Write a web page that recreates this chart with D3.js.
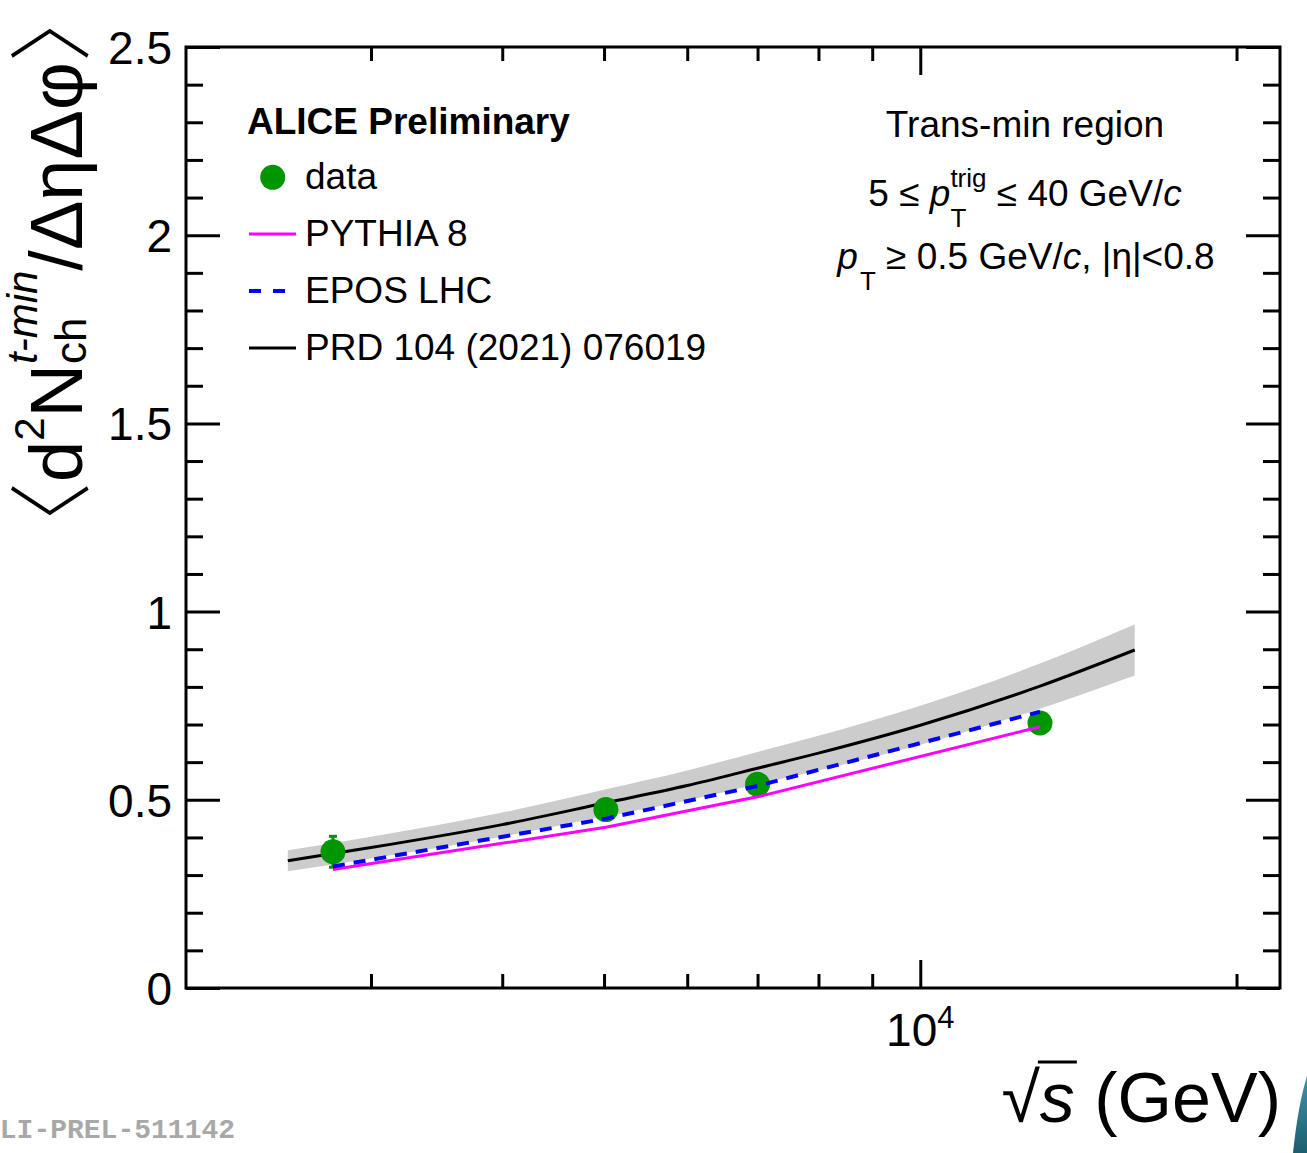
<!DOCTYPE html>
<html>
<head>
<meta charset="utf-8">
<script src="https://cdn.jsdelivr.net/npm/d3@7"></script>
<style>
    body { margin: 0; background: #fff; }
    svg { display: block; }
    text { font-family: "Liberation Sans", Arial, Helvetica, sans-serif; }
</style>
</head>
<body>
<div id="chart"></div>
<script>
// Measured points (sqrt(s) in GeV)
const energies = [2760, 5020, 7000, 13000];
const dataVals = [0.362, 0.474, 0.541, 0.704];
const dataErr = [0.041, 0.012, 0.011, 0.012];
const pythiaVals = [0.315, 0.427, 0.508, 0.694];
const eposVals = [0.323, 0.450, 0.537, 0.734];

// PRD 104 (2021) 076019 curve with its uncertainty band
const prdEnergies = [2500, 3000, 4000, 5020, 6000, 7000, 8000, 10000, 13000, 16000];
const prdVals = [0.338, 0.373, 0.434, 0.492, 0.538, 0.584, 0.624, 0.698, 0.802, 0.898];
const prdLow = [0.310, 0.344, 0.402, 0.456, 0.498, 0.541, 0.578, 0.646, 0.742, 0.830];
const prdHigh = [0.366, 0.402, 0.466, 0.528, 0.578, 0.627, 0.670, 0.750, 0.862, 0.966];

// Ticks
const yMajor = [0, 0.5, 1, 1.5, 2, 2.5];
const yMinor = [0.1, 0.2, 0.3, 0.4, 0.6, 0.7, 0.8, 0.9, 1.1, 1.2, 1.3, 1.4,
                1.6, 1.7, 1.8, 1.9, 2.1, 2.2, 2.3, 2.4];
const xMajor = [10000];
const xMinor = [3000, 4000, 5000, 6000, 7000, 8000, 9000, 20000];

const legendLabels = ["data", "PYTHIA 8", "EPOS LHC", "PRD 104 (2021) 076019"];

const width = 1307,
    height = 1153,
    margin = { top: 47, right: 27, bottom: 165, left: 186 };

const green = "#009600";

const svg = d3
    .select("#chart")
    .append("svg")
    .attr("width", width)
    .attr("height", height)
    .attr("viewBox", [0, 0, width, height]);

const x = d3
    .scaleLog()
    .domain([2000, 22000])
    .range([margin.left, width - margin.right]);

const y = d3
    .scaleLinear()
    .domain([0, 2.5])
    .range([height - margin.bottom, margin.top]);

// Band and theory curve
const prd = prdEnergies.map((e, i) => ({ e, v: prdVals[i], lo: prdLow[i], hi: prdHigh[i] }));

svg.append("path")
    .datum(prd)
    .attr("fill", "#cccccc")
    .attr("d", d3.area()
        .x((d) => x(d.e))
        .y0((d) => y(d.lo))
        .y1((d) => y(d.hi))
        .curve(d3.curveMonotoneX));

svg.append("path")
    .datum(prd)
    .attr("fill", "none")
    .attr("stroke", "black")
    .attr("stroke-width", 3)
    .attr("d", d3.line()
        .x((d) => x(d.e))
        .y((d) => y(d.v))
        .curve(d3.curveMonotoneX));

// Data points with error bars
const pts = energies.map((e, i) => ({ e, v: dataVals[i], err: dataErr[i] }));

const errG = svg.append("g").attr("stroke", green).attr("stroke-width", 3);
errG.selectAll("line.bar")
    .data(pts)
    .join("line")
    .attr("class", "bar")
    .attr("x1", (d) => x(d.e))
    .attr("x2", (d) => x(d.e))
    .attr("y1", (d) => y(d.v - d.err))
    .attr("y2", (d) => y(d.v + d.err));
errG.selectAll("line.cap")
    .data(pts.flatMap((d) => [d.v - d.err, d.v + d.err].map((v) => ({ e: d.e, v }))))
    .join("line")
    .attr("class", "cap")
    .attr("x1", (d) => x(d.e) - 4)
    .attr("x2", (d) => x(d.e) + 4)
    .attr("y1", (d) => y(d.v))
    .attr("y2", (d) => y(d.v));

svg.append("g")
    .selectAll("circle")
    .data(pts)
    .join("circle")
    .attr("cx", (d) => x(d.e))
    .attr("cy", (d) => y(d.v))
    .attr("r", 12.5)
    .attr("fill", green);

// Model lines
const simLine = d3.line().x((d, i) => x(energies[i])).y((d) => y(d));

svg.append("path")
    .datum(pythiaVals)
    .attr("fill", "none")
    .attr("stroke", "#ff00ff")
    .attr("stroke-width", 3)
    .attr("d", simLine);

svg.append("path")
    .datum(eposVals)
    .attr("fill", "none")
    .attr("stroke", "#0000ff")
    .attr("stroke-width", 4)
    .attr("stroke-dasharray", "12,9")
    .attr("d", simLine);

// Axes: ticks point inwards on all four sides
function styleAxis(g) {
    g.select(".domain").remove();
    g.selectAll(".tick line").attr("stroke", "black").attr("stroke-width", 3);
    g.selectAll(".tick text")
        .attr("fill", "black")
        .attr("font-size", 46);
}

const x0 = margin.left,
    x1 = width - margin.right,
    y0 = height - margin.bottom,
    y1 = margin.top;

svg.append("g")
    .attr("transform", `translate(${x0},0)`)
    .call(d3.axisLeft(y).tickValues(yMajor).tickSizeInner(-34).tickSizeOuter(0)
        .tickPadding(14).tickFormat((d) => d))
    .call(styleAxis)
    .selectAll(".tick text").attr("dy", "0.36em");

svg.append("g")
    .attr("transform", `translate(${x0},0)`)
    .call(d3.axisLeft(y).tickValues(yMinor).tickSizeInner(-17).tickSizeOuter(0).tickFormat(""))
    .call(styleAxis);

svg.append("g")
    .attr("transform", `translate(${x1},0)`)
    .call(d3.axisRight(y).tickValues(yMajor).tickSizeInner(-34).tickSizeOuter(0).tickFormat(""))
    .call(styleAxis);

svg.append("g")
    .attr("transform", `translate(${x1},0)`)
    .call(d3.axisRight(y).tickValues(yMinor).tickSizeInner(-17).tickSizeOuter(0).tickFormat(""))
    .call(styleAxis);

svg.append("g")
    .attr("transform", `translate(0,${y0})`)
    .call(d3.axisBottom(x).tickValues(xMajor).tickSizeInner(-28).tickSizeOuter(0).tickFormat(""))
    .call(styleAxis);

svg.append("g")
    .attr("transform", `translate(0,${y0})`)
    .call(d3.axisBottom(x).tickValues(xMinor).tickSizeInner(-14).tickSizeOuter(0).tickFormat(""))
    .call(styleAxis);

svg.append("g")
    .attr("transform", `translate(0,${y1})`)
    .call(d3.axisTop(x).tickValues(xMajor).tickSizeInner(-28).tickSizeOuter(0).tickFormat(""))
    .call(styleAxis);

svg.append("g")
    .attr("transform", `translate(0,${y1})`)
    .call(d3.axisTop(x).tickValues(xMinor).tickSizeInner(-14).tickSizeOuter(0).tickFormat(""))
    .call(styleAxis);

svg.append("rect")
    .attr("x", x0)
    .attr("y", y1)
    .attr("width", x1 - x0)
    .attr("height", y0 - y1)
    .attr("fill", "none")
    .attr("stroke", "black")
    .attr("stroke-width", 3);

// 10^4 label
svg.selectAll("text.xlab")
    .data(xMajor)
    .join("text")
    .attr("class", "xlab")
    .attr("x", (d) => x(d))
    .attr("y", y0 + 58)
    .attr("text-anchor", "middle")
    .attr("font-size", 46)
    .call((t) => {
        t.append("tspan").text("10");
        t.append("tspan").attr("font-size", 31).attr("dy", -18).text((d) => Math.log10(d));
    });

// Axis titles
const xt = svg.append("text")
    .attr("x", x1 + 1)
    .attr("y", 1122)
    .attr("text-anchor", "end")
    .attr("font-size", 70);
xt.append("tspan").text("√");
xt.append("tspan").attr("font-style", "italic").text("s");
xt.append("tspan").text(" (GeV)");
{
    const n = xt.node();
    const a = n.getEndPositionOfChar(0).x - 2;
    const b = n.getEndPositionOfChar(1).x + 2;
    svg.append("line")
        .attr("x1", a).attr("x2", b)
        .attr("y1", 1122 - 60).attr("y2", 1122 - 60)
        .attr("stroke", "black").attr("stroke-width", 3);
}

const bracketFont = '"Noto Sans CJK JP", "DejaVu Sans", sans-serif';
const yt = svg.append("text")
    .attr("transform", "translate(82,272) rotate(-90)")
    .attr("text-anchor", "middle")
    .attr("font-size", 74);
yt.append("tspan").style("font-family", bracketFont).attr("font-size", 84).attr("font-weight", 300).text("〈");
yt.append("tspan").text("d");
yt.append("tspan").attr("font-size", 42).attr("dy", -38).text("2");
yt.append("tspan").attr("dy", 38).text("N");
const ySup = yt.append("tspan").attr("font-size", 42).attr("font-style", "italic").attr("dy", -45).text("t-min");
const wSupY = ySup.node().getComputedTextLength();
const ySub = yt.append("tspan").attr("font-size", 44).attr("dx", -wSupY).attr("dy", 49).text("ch");
const wSubY = ySub.node().getComputedTextLength();
yt.append("tspan").attr("dx", wSupY - wSubY).attr("dy", -4).text("/ΔηΔφ");
yt.append("tspan").style("font-family", bracketFont).attr("font-size", 84).attr("font-weight", 300).text("〉");

// Legend
const lg = svg.append("g").attr("font-size", 37);
lg.append("text").attr("x", 247).attr("y", 134).attr("font-weight", "bold").text("ALICE Preliminary");
lg.append("circle").attr("cx", 272.7).attr("cy", 177.3).attr("r", 12.5).attr("fill", green);
lg.append("line").attr("x1", 249).attr("x2", 296).attr("y1", 234).attr("y2", 234)
    .attr("stroke", "#ff00ff").attr("stroke-width", 3);
lg.append("line").attr("x1", 249).attr("x2", 296).attr("y1", 291).attr("y2", 291)
    .attr("stroke", "#0000ff").attr("stroke-width", 4).attr("stroke-dasharray", "12,12");
lg.append("line").attr("x1", 249).attr("x2", 296).attr("y1", 348).attr("y2", 348)
    .attr("stroke", "black").attr("stroke-width", 3);
lg.selectAll("text.entry")
    .data(legendLabels)
    .join("text")
    .attr("class", "entry")
    .attr("x", 305)
    .attr("y", (d, i) => 189 + i * 57)
    .text((d) => d);

// Selection text block
const tb = svg.append("g").attr("font-size", 37).attr("text-anchor", "middle");
tb.append("text").attr("x", 1025).attr("y", 137).text("Trans-min region");

const l2 = tb.append("text").attr("x", 1025).attr("y", 206);
l2.append("tspan").text("5 ≤ ");
l2.append("tspan").attr("font-style", "italic").text("p");
const sup2 = l2.append("tspan").attr("font-size", 26).attr("dy", -19).text("trig");
const wSup2 = sup2.node().getComputedTextLength();
const sub2 = l2.append("tspan").attr("font-size", 26).attr("dx", -wSup2).attr("dy", 40).text("T");
const wSub2 = sub2.node().getComputedTextLength();
l2.append("tspan").attr("dx", wSup2 - wSub2).attr("dy", -21).text(" ≤ 40 GeV/");
l2.append("tspan").attr("font-style", "italic").text("c");

const l3 = tb.append("text").attr("x", 1026).attr("y", 269);
l3.append("tspan").attr("font-style", "italic").text("p");
l3.append("tspan").attr("font-size", 26).attr("dx", 2).attr("dy", 21).text("T");
l3.append("tspan").attr("dy", -21).text(" ≥ 0.5 GeV/");
l3.append("tspan").attr("font-style", "italic").text("c");
l3.append("tspan").text(", |η|<0.8");

// Preliminary figure id
svg.append("text")
    .attr("x", -17)
    .attr("y", 1138)
    .style("font-family", '"Liberation Mono", "DejaVu Sans Mono", monospace')
    .attr("font-weight", "bold")
    .attr("font-size", 28)
    .attr("fill", "#a8a8a8")
    .text("ALI-PREL-511142");

// Edge of the logo, bottom right
const grad = svg.append("defs").append("linearGradient")
    .attr("id", "logoGrad").attr("x1", 0).attr("y1", 0).attr("x2", 0).attr("y2", 1);
grad.append("stop").attr("offset", "0%").attr("stop-color", "#3f93a6");
grad.append("stop").attr("offset", "100%").attr("stop-color", "#1d5d70");
svg.append("path")
    .attr("d", "M1307,1076 Q1298,1105 1293,1153 L1307,1153 Z")
    .attr("fill", "url(#logoGrad)");
</script>
</body>
</html>
